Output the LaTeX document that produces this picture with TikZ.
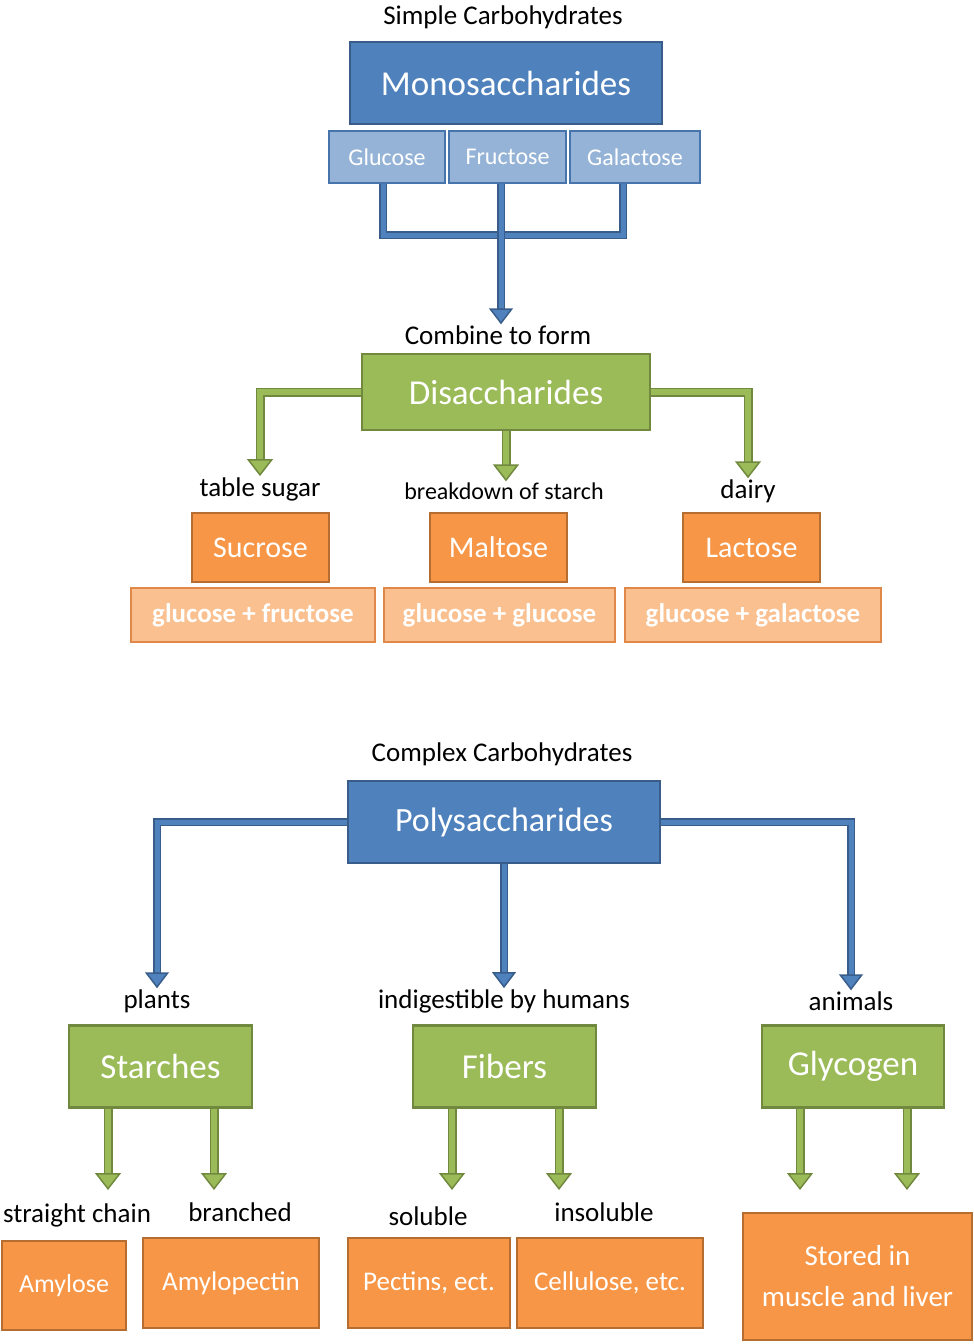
\documentclass[tikz,border=0pt]{standalone}
\usepackage{fontspec}
\setmainfont{Carlito}
\usetikzlibrary{arrows.meta}

\definecolor{bluefill}{HTML}{4F81BD}
\definecolor{blueline}{HTML}{385D8A}
\definecolor{bluelight}{HTML}{95B3D7}
\definecolor{greenfill}{HTML}{9BBB59}
\definecolor{greenline}{HTML}{71893F}
\definecolor{orangefill}{HTML}{F79646}
\definecolor{orangeline}{HTML}{B66D31}
\definecolor{orangelight}{HTML}{FAC090}
\definecolor{orangemid}{HTML}{E0874A}

\newcommand{\fsz}[1]{\fontsize{#1}{#1}\selectfont}

\tikzset{
  box/.style={draw, line width=2.8pt, text=white, inner sep=0pt, align=center},
  bigbox/.style={box, fill=bluefill, draw=blueline, minimum width=312pt, minimum height=82pt, font=\fsz{35}},
  subbox/.style={box, fill=bluelight, draw=bluefill!90!black, minimum height=52pt, font=\fsz{24}},
  greenbox/.style={box, fill=greenfill, draw=greenline, minimum height=82pt, font=\fsz{35}},
  sugarbox/.style={box, fill=orangefill, draw=orangeline, minimum width=137pt, minimum height=69pt, font=\fsz{30}},
  pairbox/.style={box, fill=orangelight, draw=orangemid, minimum height=54pt, font=\fsz{27}\bfseries},
  leafbox/.style={box, fill=orangefill, draw=orangeline, minimum height=90pt, font=\fsz{27}},
  lbl/.style={inner sep=1pt, font=\fsz{27}},
  bluebar/.style={draw=bluefill, line width=5pt, line join=miter,
    preaction={draw=blueline, line width=8.5pt}},
  bluearr/.style={draw=bluefill, line width=5pt, line join=miter,
    preaction={draw=blueline, line width=8.5pt, arrows=-, shorten >=12pt},
    -{Triangle[length=16pt, width=24pt, color=blueline, fill=bluefill, line width=1.5pt]}},
  greenarr/.style={draw=greenfill, line width=5.5pt, line join=miter,
    preaction={draw=greenline, line width=9pt, arrows=-, shorten >=12pt},
    -{Triangle[length=17pt, width=26pt, color=greenline, fill=greenfill, line width=1.5pt]}}
}

\begin{document}
\begin{tikzpicture}[x=1pt, y=-1pt]
\useasboundingbox (0,0) rectangle (974,1344);

% simple carbohydrates
\node[lbl] (simple) at (503,17) {Simple Carbohydrates};
\node[bigbox] (mono) at (506,83) {Monosaccharides};
\node[subbox, minimum width=116pt] (glu) at (387,157) {Glucose};
\node[subbox, minimum width=117pt] (fru) at (507.5,157) {Fructose};
\node[subbox, minimum width=130pt] (gal) at (635,157) {Galactose};

\coordinate (join) at (501,235);
\coordinate (glujoin) at (383,235);
\coordinate (galjoin) at (623,235);
\draw[bluebar] (glu.south -| glujoin) -- (glujoin) -- (galjoin) -- (gal.south -| galjoin);
\draw[bluebar] (fru.south -| join) -- (join);

\node[lbl] (combine) at (498,335) {Combine to form};
\draw[bluearr] (join) -- (join |- combine.north);

% disaccharides
\node[greenbox, minimum width=288pt, minimum height=76pt] (di) at (506,392) {Disaccharides};

\node[lbl] (table) at (260,489) {table sugar};
\node[lbl, font=\fsz{24}] (starch) at (504,491) {breakdown of starch};
\node[lbl] (dairy) at (748,491) {dairy};

\draw[greenarr] (di.west) -| (table.north);
\draw[greenarr] (di.south) -- (di.south |- starch.north);
\draw[greenarr] (di.east) -| (dairy.north);

\node[sugarbox] (suc) at (260.5,547.5) {Sucrose};
\node[sugarbox] (mal) at (498.5,547.5) {Maltose};
\node[sugarbox] (lac) at (751.5,547.5) {Lactose};

\node[pairbox, minimum width=244pt] (glufru) at (253,615) {glucose + fructose};
\node[pairbox, minimum width=231pt] (gluglu) at (499.5,615) {glucose + glucose};
\node[pairbox, minimum width=256pt] (glugal) at (753,615) {glucose + galactose};

% complex carbohydrates
\node[lbl] (complex) at (502,754) {Complex Carbohydrates};
\node[bigbox, font=\fsz{34}] (poly) at (504,822) {Polysaccharides};

\node[lbl] (plants) at (157,1001) {plants};
\node[lbl] (indig) at (504,1001) {indigestible by humans};
\node[lbl] (animals) at (851,1001) {animals};

\draw[bluearr] (poly.west) -| (plants.north);
\draw[bluearr] (poly.south) -- (indig.north);
\draw[bluearr] (poly.east) -| (animals.north);

\node[greenbox, minimum width=183pt] (sta) at (160.5,1066.5) {Starches};
\node[greenbox, minimum width=183pt] (fib) at (504.5,1066.5) {Fibers};
\node[greenbox, minimum width=182pt] (gly) at (853,1066.5) {Glycogen};

\coordinate (sta1) at (108,1190);
\coordinate (sta2) at (214,1190);
\coordinate (fib1) at (452,1190);
\coordinate (fib2) at (559,1190);
\coordinate (gly1) at (800,1190);
\coordinate (gly2) at (907,1190);
\foreach \c/\p in {sta1/sta, sta2/sta, fib1/fib, fib2/fib, gly1/gly, gly2/gly}
  \draw[greenarr] (\p.south -| \c) -- (\c);

\node[lbl] (straight) at (77,1215) {straight chain};
\node[lbl] (branched) at (240,1212) {branched};
\node[lbl] (soluble) at (428,1216) {soluble};
\node[lbl] (insoluble) at (604,1212) {insoluble};

\node[leafbox, minimum width=124pt, minimum height=89pt, font=\fsz{26}] (amylose) at (64,1285.5) {Amylose};
\node[leafbox, minimum width=176pt] (amylopectin) at (231,1283) {Amylopectin};
\node[leafbox, minimum width=162pt] (pectins) at (429,1283) {Pectins, ect.};
\node[leafbox, minimum width=186pt] (cellulose) at (610,1283) {Cellulose, etc.};
\node[leafbox, minimum width=229pt, minimum height=127pt, font=\fsz{29}] (stored) at (857.5,1276.5) {Stored in\\[12pt]muscle and liver};

\end{tikzpicture}
\end{document}
